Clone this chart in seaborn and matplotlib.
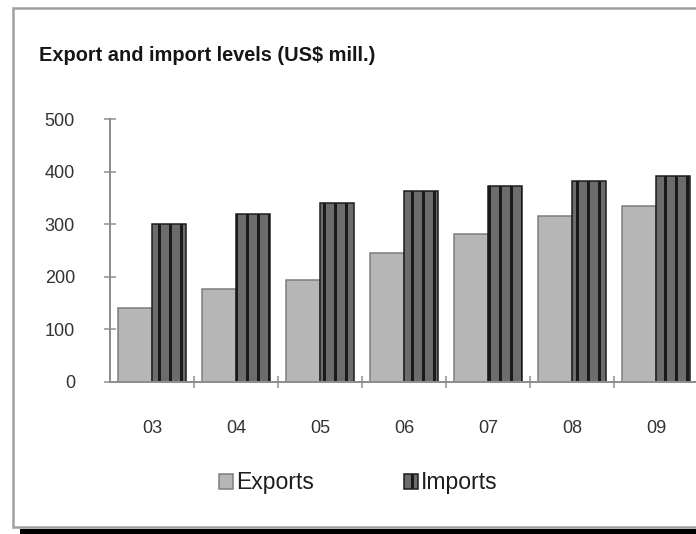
import matplotlib
matplotlib.use("Agg")
import matplotlib.pyplot as plt
from matplotlib.patches import Rectangle, Patch
import seaborn as sns
import pandas as pd

# Chart data
years = ["03", "04", "05", "06", "07", "08", "09"]
exports = [140, 177, 193, 245, 281, 315, 335]
imports = [300, 320, 340, 363, 373, 382, 392]
series_names = ["Exports", "Imports"]
y_ticks = [0, 100, 200, 300, 400, 500]
title = "Export and import levels (US$ mill.)"

W, H = 696, 534
DPI = 66


def pt(px):
    """Convert a pixel size to points at the figure dpi."""
    return px * 72 / DPI


def fx(x):
    return x / W


def fy(y):
    return 1 - y / H


sns.set_theme(style="white")
plt.rcParams["font.family"] = ["Liberation Sans", "DejaVu Sans"]
plt.rcParams["hatch.linewidth"] = pt(3)
plt.rcParams["hatch.color"] = "#111111"

fig = plt.figure(figsize=(W / DPI, H / DPI), dpi=DPI, facecolor="white")

# outer frame with a dark drop shadow along the bottom
fig.patches.append(Rectangle((fx(20), fy(545)), fx(760) - fx(20), fy(529) - fy(545),
                             transform=fig.transFigure, facecolor="#000000",
                             edgecolor="none", zorder=-3))
fig.patches.append(Rectangle((fx(13), fy(527)), fx(760) - fx(13), fy(8) - fy(527),
                             transform=fig.transFigure, facecolor="white",
                             edgecolor="#a0a0a0", linewidth=pt(2.5), zorder=-2))

ax = fig.add_axes([fx(110), fy(382), 588 / W, (382 - 119) / H])
ax.set_facecolor("none")

df = pd.DataFrame({
    "year": years * 2,
    "value": exports + imports,
    "series": [series_names[0]] * len(years) + [series_names[1]] * len(years),
})

sns.barplot(data=df, x="year", y="value", hue="series", hue_order=series_names,
            palette=["#b6b6b6", "#6c6c6c"], saturation=1, width=0.8,
            edgecolor="#7c7c7c", linewidth=pt(1.5), legend=False, ax=ax)

for bar in ax.containers[1]:
    bar.set_hatch("|")
    bar.set_edgecolor("#1a1a1a")
    bar.set_linewidth(pt(1.5))

ax.set_xlim(-0.5, len(years) - 0.5)
ax.set_ylim(0, 500)
ax.set_xlabel("")
ax.set_ylabel("")

for side in ("top", "right"):
    ax.spines[side].set_visible(False)
for side in ("left", "bottom"):
    ax.spines[side].set_color("#8e8e8e")
    ax.spines[side].set_linewidth(pt(2))

ax.set_yticks(y_ticks)
ax.tick_params(axis="y", direction="inout", length=pt(12), width=pt(1.5),
               color="#8e8e8e", labelsize=pt(18), labelcolor="#333333", pad=pt(29),
               left=True)
ax.set_xticks(range(len(years)))
ax.set_xticklabels(years)
ax.tick_params(axis="x", which="major", length=0, labelsize=pt(18),
               labelcolor="#333333", pad=pt(38))
ax.set_xticks([i + 0.5 for i in range(len(years) - 1)], minor=True)
ax.tick_params(axis="x", which="minor", direction="inout", length=pt(12),
               width=pt(1.5), color="#8e8e8e", bottom=True)

fig.text(fx(39), fy(61), title, fontsize=pt(20), fontweight="bold",
         family=["Liberation Sans Narrow", "Liberation Sans", "DejaVu Sans"],
         color="#161616", va="baseline", ha="left")

handles = [
    Patch(facecolor="#b6b6b6", edgecolor="#7c7c7c", linewidth=pt(1.5)),
    Patch(facecolor="#6c6c6c", edgecolor="#1a1a1a", linewidth=pt(1.5), hatch="|"),
]
for handle, name, x0 in zip(handles, series_names, (219, 404)):
    fig.legend([handle], [name], loc="center left", bbox_to_anchor=(fx(x0), fy(483)),
               frameon=False, fontsize=pt(23), handlelength=0.6, handleheight=0.6,
               handletextpad=0.15, borderpad=0, borderaxespad=0,
               labelcolor="#1e1e1e")

fig.savefig("out.png", dpi=DPI, facecolor="white")
